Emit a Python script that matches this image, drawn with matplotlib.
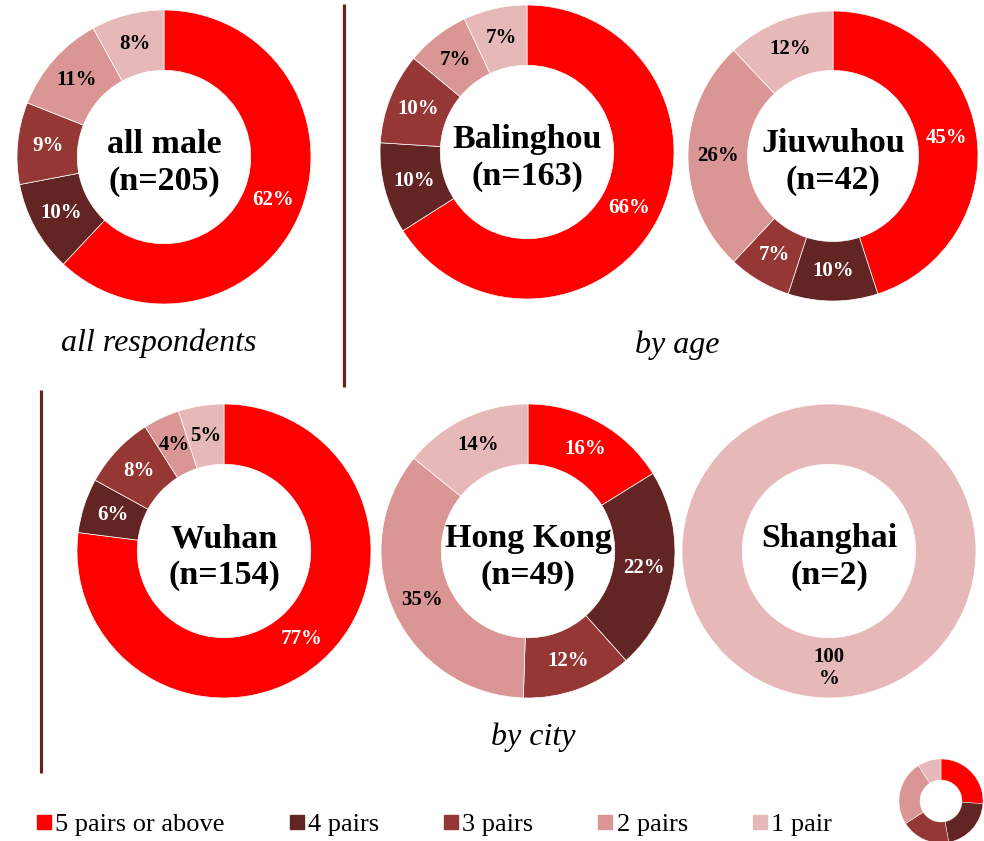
import matplotlib
matplotlib.use('Agg')
import numpy as np
import matplotlib.pyplot as plt
from matplotlib.lines import Line2D
from matplotlib.font_manager import FontProperties

# ---------------- data ----------------
categories = ['5 pairs or above', '4 pairs', '3 pairs', '2 pairs', '1 pair']
colors = ['#FF0000', '#632523', '#953735', '#D99694', '#E6B9B8']
label_colors = ['white', 'white', 'white', 'black', 'black']

all_male = [62, 10, 9, 11, 8]
balinghou = [66, 10, 10, 7, 7]
jiuwuhou = [45, 10, 7, 26, 12]
wuhan = [77, 6, 8, 4, 5]
hong_kong = [16, 22, 12, 35, 14]
shanghai = [0, 0, 0, 0, 100]
legend_sample = [26, 21, 19, 25, 9]

center_titles = ['all male\n(n=205)', 'Balinghou\n(n=163)', 'Jiuwuhou\n(n=42)',
                 'Wuhan\n(n=154)', 'Hong Kong\n(n=49)', 'Shanghai\n(n=2)']
group_titles = ['all respondents', 'by age', 'by city']

# ---------------- layout (pixel coords, y from top) ----------------
W, H = 984, 841
FONT = 'Liberation Serif'
plt.rcParams['font.family'] = [FONT, 'DejaVu Serif']

fig = plt.figure(figsize=(W / 100, H / 100), dpi=100)
ax = fig.add_axes([0, 0, 1, 1])


def Y(y):
    return H - y


donuts = [
    (all_male, (164, 157), 147),
    (balinghou, (527, 152), 147),
    (jiuwuhou, (833, 156), 145),
    (wuhan, (224, 551), 147),
    (hong_kong, (528, 551), 147),
    (shanghai, (829, 551), 147),
]
HOLE = 0.59

for (vals, (cx, cy), R), title in zip(donuts, center_titles):
    idx = [i for i, v in enumerate(vals) if v > 0]
    v = [vals[i] for i in idx]
    c = [colors[i] for i in idx]
    total = sum(v)
    labels_txt = []
    for val in v:
        pct = round(100 * val / total)
        labels_txt.append('100\n%' if pct == 100 else f'{pct}%')
    ax.pie(v, colors=c, center=(cx, Y(cy)), radius=R,
           startangle=90, counterclock=False, frame=True,
           wedgeprops=dict(width=R * (1 - HOLE), edgecolor='white',
                           linewidth=0.5))
    angs = np.cumsum([0] + v)
    rmid = R * (1 + HOLE) / 2
    for k, i in enumerate(idx):
        theta = np.deg2rad(90 - 360 * (angs[k] + angs[k + 1]) / 2 / total)
        ax.text(cx + rmid * np.cos(theta), Y(cy) + rmid * np.sin(theta),
                labels_txt[k], ha='center', va='center', fontsize=15,
                fontweight='bold', color=label_colors[i], linespacing=1.15)
    ax.text(cx, Y(cy + 6), title, ha='center', va='center', fontsize=24.5,
            fontweight='bold', color='black', linespacing=1.2)

# legend sample donut
ax.pie(legend_sample, colors=colors, center=(941, Y(801)), radius=42,
       startangle=90, counterclock=False, frame=True,
       wedgeprops=dict(width=42 * 0.5, edgecolor='white', linewidth=0.3))

ax.set_xlim(0, W)
ax.set_ylim(0, H)
ax.set_aspect('equal')
ax.axis('off')

# group subtitles
for t, (x, y) in zip(group_titles, [(159, 343), (677, 345), (533, 737)]):
    ax.text(x, Y(y), t, ha='center', va='center', fontsize=23,
            style='italic', color='black')

# separator lines
ax.plot([344, 344], [Y(4), Y(387)], color='#632523', lw=2.3, solid_capstyle='butt')
ax.plot([41, 41], [Y(390), Y(773)], color='#632523', lw=2.3, solid_capstyle='butt')

# legend
handles = [Line2D([], [], marker='s', linestyle='none', markersize=10,
                  markerfacecolor=col, markeredgecolor=col) for col in colors]
fig.legend(handles, categories, loc='center left', ncol=5,
           bbox_to_anchor=(37 / W, 1 - 824 / H), frameon=False,
           prop=FontProperties(family=[FONT, 'DejaVu Serif'], size=19),
           handlelength=0.55, handletextpad=0.15,
           columnspacing=2.45, borderpad=0, borderaxespad=0)

fig.savefig('out.png', dpi=100, facecolor='white')
